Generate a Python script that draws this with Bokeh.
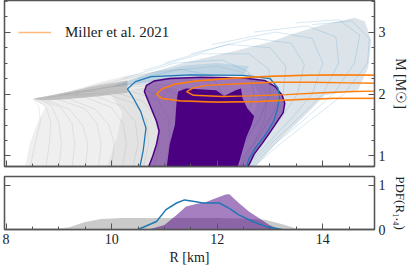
from bokeh.plotting import figure
from bokeh.layouts import column
from bokeh.models import (LinearAxis, Range1d, FixedTicker, Legend, LegendItem,
                          CustomLabelingPolicy)
from bokeh.embed import file_html
from bokeh.resources import INLINE

FONT = "Liberation Serif"
INDIGO = "#4b0082"
BLUE = "#1f77b4"
ORANGE = "#ff7f0e"
AXC = "#555555"

# ---------------- data ----------------
x_major = [8, 10, 12, 14]
x_minor = [8, 8.5, 9, 9.5, 10, 10.5, 11, 11.5, 12, 12.5, 13, 13.5, 14, 14.5, 15]
m_major = [1, 2, 3]
m_minor = [0.75, 1, 1.25, 1.5, 1.75, 2, 2.25, 2.5, 2.75, 3, 3.25, 3.5]
pdf_major = [0, 1]

# envelope of the whole M-R ensemble
bundle_R = [8.35, 8.45, 8.6, 8.75, 8.5, 9.2, 9.8, 10.3, 10.8, 11.35, 11.8, 12.35, 13.0, 13.4,
            14.0, 14.6, 14.8, 14.92, 14.86, 14.67, 14.3, 14.04, 13.6, 13.1, 12.7]
bundle_M = [0.8, 1.2, 1.55, 1.8, 1.92, 2.04, 2.2, 2.3, 2.36, 2.5, 2.59, 2.7, 2.84, 2.96,
            3.12, 3.23, 3.17, 2.86, 2.43, 2.06, 2.02, 1.98, 1.6, 1.19, 0.8]
# denser middle part of the soft ensemble
mid_R = [9.9, 10.1, 10.2, 10.0, 10.6, 11.2, 11.6, 11.4, 11.2]
mid_M = [0.8, 1.3, 1.7, 1.98, 2.1, 2.1, 1.7, 1.2, 0.8]
# dense converging band near the left tip
tip_R = [8.5, 9.2, 9.8, 10.3, 10.3, 9.8, 9.2, 8.8]
tip_M = [1.92, 2.04, 2.15, 2.22, 2.02, 1.97, 1.92, 1.9]
# stiff (blue) part of the ensemble
stiff_R = [10.0, 10.8, 11.35, 11.8, 12.35, 13.0, 13.4, 14.0, 14.6, 14.8, 14.92, 14.86, 14.67,
           14.3, 14.04, 13.6, 13.1, 12.7, 12.4, 12.6, 12.8, 12.6, 11.5, 10.6]
stiff_M = [2.12, 2.36, 2.5, 2.59, 2.7, 2.84, 2.96, 3.12, 3.23, 3.17, 2.86, 2.43, 2.06,
           2.02, 1.98, 1.6, 1.19, 0.8, 0.8, 1.4, 2.0, 2.3, 2.3, 2.15]
# dense blue band above the 90% region
stiff_band_R = [10.0, 10.8, 11.4, 12.0, 12.6, 12.5, 11.5, 10.6]
stiff_band_M = [2.12, 2.36, 2.46, 2.5, 2.45, 2.3, 2.28, 2.18]

# representative individual curves
soft_curves_R = [
    [8.45, 8.55, 8.65, 8.62, 8.52],
    [8.75, 8.82, 8.85, 8.75, 8.55],
    [9.0, 9.05, 9.0, 8.85, 8.6],
    [9.25, 9.3, 9.25, 9.05, 8.7, 8.55],
    [9.5, 9.55, 9.45, 9.2, 8.8, 8.55],
    [9.75, 9.8, 9.72, 9.5, 9.0, 8.6],
    [10.0, 10.05, 9.95, 9.7, 9.2, 8.7],
    [10.2, 10.28, 10.22, 10.0, 9.5, 8.8],
    [10.4, 10.5, 10.45, 10.2, 9.7, 9.0],
    [10.6, 10.7, 10.66, 10.42, 9.9, 9.1],
    [10.8, 10.9, 10.85, 10.6, 10.1, 9.3],
    [11.0, 11.1, 11.08, 10.88, 10.35, 9.5, 8.8],
    [11.2, 11.3, 11.3, 11.1, 10.6, 9.8, 9.0],
    [11.4, 11.52, 11.55, 11.4, 10.9, 10.0, 9.1],
    [11.6, 11.75, 11.8, 11.65, 11.2, 10.3, 9.3],
    [12.0, 12.2, 12.3, 12.2, 11.8, 11.0, 9.8],
    [12.4, 12.7, 12.9, 12.95, 12.7, 12.0, 10.8, 9.5],
]
soft_curves_M = [
    [0.8, 1.2, 1.55, 1.8, 1.92],
    [0.8, 1.2, 1.55, 1.8, 1.92],
    [0.8, 1.2, 1.55, 1.82, 1.93],
    [0.8, 1.2, 1.52, 1.78, 1.9, 1.93],
    [0.8, 1.2, 1.5, 1.75, 1.9, 1.93],
    [0.8, 1.2, 1.52, 1.76, 1.91, 1.94],
    [0.8, 1.2, 1.5, 1.75, 1.92, 1.95],
    [0.8, 1.2, 1.52, 1.78, 1.95, 1.96],
    [0.8, 1.2, 1.55, 1.8, 1.97, 1.98],
    [0.8, 1.2, 1.58, 1.85, 2.0, 1.99],
    [0.8, 1.2, 1.6, 1.88, 2.02, 2.0],
    [0.8, 1.2, 1.6, 1.9, 2.05, 2.04, 1.95],
    [0.8, 1.2, 1.6, 1.9, 2.08, 2.08, 1.98],
    [0.8, 1.2, 1.6, 1.92, 2.12, 2.12, 2.0],
    [0.8, 1.2, 1.6, 1.95, 2.15, 2.15, 2.03],
    [0.8, 1.2, 1.6, 1.95, 2.2, 2.25, 2.1],
    [0.8, 1.2, 1.6, 2.0, 2.3, 2.45, 2.35, 2.1],
]
stiff_curves_R = [
    [11.5, 11.8, 12.0, 12.1, 11.9, 11.3, 10.5],
    [12.0, 12.3, 12.55, 12.7, 12.6, 12.1, 11.2, 10.2],
    [12.15, 12.5, 12.8, 13.0, 12.98, 12.6, 11.7, 10.6],
    [12.3, 12.7, 13.0, 13.25, 13.3, 13.0, 12.2, 11.0],
    [12.4, 12.82, 13.2, 13.52, 13.65, 13.4, 12.7, 11.5],
    [12.5, 12.95, 13.4, 13.8, 14.0, 13.8, 13.1, 11.9],
    [12.55, 13.02, 13.5, 14.0, 14.3, 14.25, 13.7, 12.7],
    [12.6, 13.1, 13.6, 14.2, 14.6, 14.7, 14.3, 13.5],
    [12.65, 13.2, 13.8, 14.4, 14.85, 14.88, 14.55, 13.8],
]
stiff_curves_M = [
    [0.8, 1.2, 1.6, 2.0, 2.3, 2.4, 2.25],
    [0.8, 1.2, 1.6, 2.0, 2.35, 2.55, 2.5, 2.25],
    [0.8, 1.2, 1.6, 2.0, 2.4, 2.65, 2.65, 2.38],
    [0.8, 1.2, 1.6, 2.0, 2.45, 2.75, 2.8, 2.5],
    [0.8, 1.2, 1.6, 2.0, 2.48, 2.82, 2.9, 2.65],
    [0.8, 1.2, 1.6, 2.0, 2.5, 2.9, 3.0, 2.8],
    [0.8, 1.2, 1.58, 2.0, 2.5, 2.92, 3.1, 3.0],
    [0.8, 1.2, 1.55, 2.0, 2.5, 2.95, 3.2, 3.15],
    [0.8, 1.2, 1.6, 2.0, 2.5, 2.9, 3.18, 3.12],
]

# 90% region (light purple) and 68% region (dark purple)
c90_R = [10.69, 10.78, 10.85, 10.9, 10.85, 10.72, 10.62, 10.66, 10.8, 11.1, 11.7, 12.5, 12.9,
         13.1, 13.23, 13.28, 13.25, 13.17, 13.0, 12.85, 12.7, 12.57]
c90_M = [0.8, 1.0, 1.19, 1.4, 1.56, 1.83, 2.04, 2.14, 2.21, 2.25, 2.27, 2.26, 2.22,
         2.12, 1.98, 1.85, 1.7, 1.6, 1.38, 1.2, 1.03, 0.8]
c68_R = [11.04, 11.1, 11.2, 11.23, 11.26, 11.41, 11.98, 12.13, 12.35, 12.45, 12.48, 12.57,
         12.7, 12.65, 12.55, 12.45, 12.38]
c68_M = [0.8, 1.19, 1.51, 1.88, 2.04, 2.09, 2.06, 1.97, 2.06, 2.09, 1.93, 1.77,
         1.64, 1.5, 1.3, 1.0, 0.8]
# blue contour line
cb_R = [10.53, 10.6, 10.65, 10.55, 10.38, 10.3, 10.45, 10.75, 11.5, 12.5, 13.0, 13.15, 13.18,
        13.14, 13.07, 12.92, 12.73, 12.6, 12.54]
cb_M = [0.8, 1.1, 1.45, 1.72, 1.98, 2.08, 2.2, 2.28, 2.31, 2.3, 2.25, 2.1, 1.95,
        1.75, 1.56, 1.35, 1.14, 0.95, 0.8]

# Miller et al. 2021 contours (open beyond the right edge)
miller_outer_R = [15.2, 14.2, 13.5, 12.8, 12.2, 11.6, 11.2, 10.95, 10.85, 10.95, 11.3, 12.0,
                  12.8, 13.5, 14.2, 15.2]
miller_outer_M = [2.30, 2.31, 2.30, 2.28, 2.25, 2.21, 2.16, 2.08, 2.0, 1.93, 1.89, 1.87,
                  1.88, 1.91, 1.93, 1.93]
miller_inner_R = [15.2, 14.5, 13.8, 13.1, 12.5, 11.8, 11.55, 11.42, 11.55, 12.1, 12.6, 13.3,
                  14.0, 14.6, 15.2]
miller_inner_M = [2.17, 2.18, 2.19, 2.19, 2.17, 2.14, 2.1, 2.04, 1.98, 1.96, 1.97, 1.99,
                  2.02, 2.04, 2.05]

# PDF(R_1.4) panel
pdf_prior_R = [8.9, 9.2, 9.5, 9.8, 10.2, 11.0, 11.5, 12.0, 12.5, 12.9, 13.2, 13.5, 13.7]
pdf_prior = [0.0, 0.05, 0.17, 0.24, 0.26, 0.26, 0.26, 0.26, 0.25, 0.22, 0.13, 0.02, 0.0]
pdf_post_R = [10.7, 11.0, 11.23, 11.41, 11.6, 11.79, 11.97, 12.16, 12.23, 12.41, 12.6,
              12.79, 12.98, 13.17]
pdf_post = [0.0, 0.1, 0.33, 0.52, 0.58, 0.62, 0.71, 0.79, 0.80, 0.60, 0.41, 0.26, 0.11, 0.0]
pdf_blue_R = [10.5, 10.85, 11.03, 11.23, 11.38, 11.54, 11.73, 12.04, 12.23, 12.41, 12.67,
              12.92, 13.23]
pdf_blue = [0.0, 0.18, 0.45, 0.60, 0.67, 0.64, 0.60, 0.60, 0.48, 0.33, 0.18, 0.07, 0.0]

NO_LABELS = "for (const i of indices) indices.unset(i); return indices"


def style_axis(ax, major, minor=None, labels=True, size="14px"):
    ax.ticker = FixedTicker(ticks=major, minor_ticks=minor or [])
    ax.major_tick_in = 6
    ax.major_tick_out = 0
    ax.minor_tick_in = 3
    ax.minor_tick_out = 0
    ax.major_tick_line_color = AXC
    ax.minor_tick_line_color = AXC
    ax.axis_line_color = AXC
    ax.axis_line_width = 1.3
    ax.major_label_text_font = FONT
    ax.major_label_text_color = "#222222"
    ax.axis_label_text_font = FONT
    ax.axis_label_text_font_style = "normal"
    ax.axis_label_text_font_size = "14px"
    ax.axis_label_text_color = "#222222"
    if labels:
        ax.major_label_text_font_size = size
        ax.major_label_standoff = 4
    else:
        ax.major_label_policy = CustomLabelingPolicy(code=NO_LABELS)
        ax.major_label_text_font_size = "1px"
        ax.major_label_standoff = 0


xr = Range1d(7.97, 14.98)
TOP_H = 166

# ---------------- top panel ----------------
p = figure(frame_width=370, frame_height=TOP_H, x_range=xr, y_range=Range1d(0.83, 3.51),
           y_axis_location="right", output_backend="svg", toolbar_location=None,
           min_border_left=0, min_border_top=0, min_border_bottom=0, min_border_right=30)
p.grid.visible = False
p.outline_line_color = AXC
p.outline_line_width = 1.3

p.patch(bundle_R, bundle_M, fill_color="#8c8c8c", fill_alpha=0.14, line_color=None)
p.patch(mid_R, mid_M, fill_color="#8c8c8c", fill_alpha=0.12, line_color=None)
p.patch(stiff_R, stiff_M, fill_color="#4a90c4", fill_alpha=0.11, line_color=None)
p.patch(stiff_band_R, stiff_band_M, fill_color="#3d8fc6", fill_alpha=0.18, line_color=None)
p.patch(tip_R, tip_M, fill_color="#777777", fill_alpha=0.35, line_color=None)
p.multi_line(soft_curves_R, soft_curves_M, line_color="#8a8a8a", line_alpha=0.28, line_width=0.6)
p.multi_line(stiff_curves_R, stiff_curves_M, line_color="#3d8fc6", line_alpha=0.35, line_width=0.6)

p.patch(c90_R, c90_M, fill_color=INDIGO, fill_alpha=0.5, line_color=INDIGO, line_width=1.5)
p.patch(c68_R, c68_M, fill_color=INDIGO, fill_alpha=1.0, line_color=None)
p.line(cb_R, cb_M, line_color=BLUE, line_width=1.3)
legend_line = p.line(miller_outer_R, miller_outer_M, line_color=ORANGE, line_alpha=0.55,
                     line_width=1.6)
p.line(miller_outer_R, miller_outer_M, line_color=ORANGE, line_width=1.4)
p.line(miller_inner_R, miller_inner_M, line_color=ORANGE, line_width=1.4)

legend = Legend(items=[LegendItem(label="Miller et al. 2021", renderers=[legend_line])],
                location=(14, TOP_H - 42), border_line_color=None, background_fill_alpha=0,
                label_text_font=FONT, label_text_font_size="15px", label_text_color="#222222",
                glyph_width=33, glyph_height=20, label_height=20, label_standoff=14,
                margin=0, padding=7, spacing=0)
p.add_layout(legend)

style_axis(p.yaxis[0], m_major, m_minor)
p.yaxis[0].axis_label = "M [M☉]"
p.yaxis[0].axis_label_standoff = 4
style_axis(p.xaxis[0], x_major, x_minor, labels=False)
lax = LinearAxis()
style_axis(lax, m_major, m_minor, labels=False)
p.add_layout(lax, "left")

# ---------------- bottom panel ----------------
q = figure(frame_width=370, frame_height=53, x_range=xr, y_range=Range1d(0, 1.2),
           y_axis_location="right", output_backend="svg", toolbar_location=None,
           min_border_left=0, min_border_top=6, min_border_bottom=0, min_border_right=30)
q.grid.visible = False
q.outline_line_color = AXC
q.outline_line_width = 1.3

q.varea(x=pdf_prior_R, y1=0, y2=pdf_prior, fill_color="#bdbdbd", fill_alpha=0.8)
q.varea(x=pdf_post_R, y1=0, y2=pdf_post, fill_color=INDIGO, fill_alpha=0.5)
q.line(pdf_blue_R, pdf_blue, line_color=BLUE, line_width=1.5)

style_axis(q.yaxis[0], pdf_major)
q.yaxis[0].axis_label = "PDF(R₁.₄)"
q.yaxis[0].axis_label_text_font_size = "13px"
q.yaxis[0].axis_label_standoff = 4
style_axis(q.xaxis[0], x_major, x_minor)
q.xaxis[0].axis_label = "R [km]"
q.xaxis[0].axis_label_standoff = 3
lax2 = LinearAxis()
style_axis(lax2, pdf_major, labels=False)
q.add_layout(lax2, "left")

layout = column(p, q, spacing=0)
open("out.html", "w").write(file_html(layout, INLINE))
